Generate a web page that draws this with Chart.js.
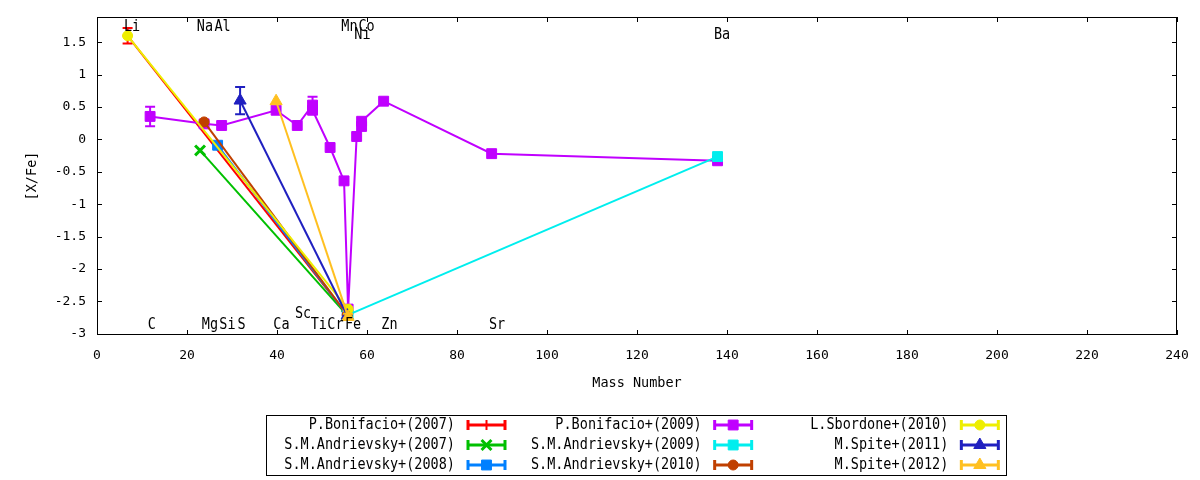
<!DOCTYPE html>
<html>
<head>
<meta charset="utf-8">
<title>[X/Fe] vs Mass Number</title>
<script src="https://cdn.jsdelivr.net/npm/chart.js@4.4.1/dist/chart.umd.min.js"></script>
<style>
  html, body { margin: 0; padding: 0; background: #fff; }
  #wrap { width: 1200px; height: 480px; }
</style>
</head>
<body>
<div id="wrap"><canvas id="abund" width="1200" height="480"></canvas></div>
<script>
/* ---------- data ---------- */
const massTicks  = [0, 20, 40, 60, 80, 100, 120, 140, 160, 180, 200, 220, 240];
const ratioTicks = [-3, -2.5, -2, -1.5, -1, -0.5, 0, 0.5, 1, 1.5];

const seriesNames = [
  'P.Bonifacio+(2007)', 'S.M.Andrievsky+(2007)', 'S.M.Andrievsky+(2008)',
  'P.Bonifacio+(2009)', 'S.M.Andrievsky+(2009)', 'S.M.Andrievsky+(2010)',
  'L.Sbordone+(2010)', 'M.Spite+(2011)', 'M.Spite+(2012)'
];
const seriesColors = ['#ff0000', '#00c000', '#0080ff', '#c000ff', '#00eeee', '#c04000', '#eeee00', '#2020c0', '#ffc020'];
const seriesMarks  = ['cross', 'crossRot', 'rect', 'rect', 'rect', 'circle', 'circle', 'triangle', 'triangle'];

// mass number, [X/Fe], error
const bon07Mass = [6.8, 55.6];
const bon07Val  = [1.60, -2.71];
const bon07Err  = [0.12, 0];

const and07Mass = [22.9, 55.5];
const and07Val  = [-0.17, -2.71];
const and07Err  = [0, 0];

const and08Mass = [26.8, 55.6];
const and08Val  = [-0.09, -2.71];
const and08Err  = [0, 0];

const bon09Mass = [11.8, 23.8, 27.7, 39.8, 44.5, 47.9, 47.9, 51.8, 54.9, 55.8, 57.7, 58.8, 58.8, 63.7, 87.7, 137.9];
const bon09Val  = [0.355, 0.24, 0.215, 0.45, 0.215, 0.53, 0.45, -0.125, -0.64, -2.62, 0.045, 0.20, 0.28, 0.59, -0.22, -0.33];
const bon09Err  = [0.15, 0, 0, 0, 0, 0.13, 0, 0, 0, 0, 0, 0, 0, 0, 0, 0];

const and09Mass = [55.8, 137.9];
const and09Val  = [-2.71, -0.265];
const and09Err  = [0, 0];

const and10Mass = [23.8, 55.6];
const and10Val  = [0.27, -2.71];
const and10Err  = [0, 0];

const sbo10Mass = [6.8, 55.8];
const sbo10Val  = [1.60, -2.62];
const sbo10Err  = [0, 0];

const spi11Mass = [31.8, 55.6];
const spi11Val  = [0.60, -2.72];
const spi11Err  = [0.21, 0];

const spi12Mass = [39.8, 55.8];
const spi12Val  = [0.59, -2.74];
const spi12Err  = [0, 0.05];

const seriesMass = [bon07Mass, and07Mass, and08Mass, bon09Mass, and09Mass, and10Mass, sbo10Mass, spi11Mass, spi12Mass];
const seriesVal  = [bon07Val, and07Val, and08Val, bon09Val, and09Val, and10Val, sbo10Val, spi11Val, spi12Val];
const seriesErr  = [bon07Err, and07Err, and08Err, bon09Err, and09Err, and10Err, sbo10Err, spi11Err, spi12Err];

// element labels in data coordinates
const elemNames = ['Li', 'Na', 'Al', 'Mn', 'Co', 'Ni', 'Ba', 'C', 'Mg', 'Si', 'S', 'Ca', 'Sc', 'Ti', 'Cr', 'Fe', 'Zn', 'Sr'];
const elemMass  = [7.8, 24.0, 27.9, 56.1, 59.9, 59.0, 138.9, 12.2, 25.1, 29.0, 32.1, 41.0, 45.8, 49.3, 53.0, 56.9, 65.0, 88.9];
const elemVal   = [1.74, 1.74, 1.74, 1.74, 1.74, 1.61, 1.61, -2.86, -2.86, -2.86, -2.86, -2.86, -2.69, -2.86, -2.86, -2.86, -2.86, -2.86];

/* ---------- look ---------- */
const FONT = "'DejaVu Sans Mono', monospace";
const STRETCH = 1.15;   // the reference glyphs are a bit taller than DejaVu's
Chart.defaults.font.family = FONT;
Chart.defaults.color = '#000';

function markSize(style) {
  if (style === 'rect' || style === 'triangle' || style === 'crossRot') return 7;
  return 5;
}
function markBorder(style) {
  if (style === 'cross') return 2;
  if (style === 'crossRot') return 3;
  return 1;
}

// text drawn by the plugins, slightly stretched vertically
function tallText(ctx, str, x, y) {
  ctx.save();
  ctx.translate(x, y);
  ctx.scale(1, STRETCH);
  ctx.fillText(str, 0, 0);
  ctx.restore();
}

const datasets = seriesNames.map((name, i) => ({
  label: name,
  data: seriesMass[i].map((m, k) => ({ x: m, y: seriesVal[i][k] })),
  errors: seriesErr[i],
  showLine: true,
  borderColor: seriesColors[i],
  backgroundColor: seriesColors[i],
  borderWidth: 2,
  pointStyle: seriesMarks[i],
  pointRadius: markSize(seriesMarks[i]),
  pointBorderWidth: markBorder(seriesMarks[i]),
  pointBorderColor: seriesColors[i],
  pointBackgroundColor: seriesColors[i],
  order: seriesNames.length - i   // later series on top, like gnuplot
}));

/* ---------- plugins ---------- */
// y error bars, drawn right after each dataset
const errorBars = {
  id: 'errorBars',
  afterDatasetDraw(chart, args) {
    const ds = chart.data.datasets[args.index];
    const { ctx } = chart;
    const ys = chart.scales.y, xs = chart.scales.x;
    ctx.save();
    ctx.strokeStyle = ds.borderColor;
    ctx.lineWidth = 2;
    ds.data.forEach((p, k) => {
      const e = ds.errors[k];
      if (!e) return;
      const px = xs.getPixelForValue(p.x);
      const top = ys.getPixelForValue(p.y + e);
      const bot = ys.getPixelForValue(p.y - e);
      ctx.beginPath();
      ctx.moveTo(px, top); ctx.lineTo(px, bot);
      ctx.moveTo(px - 5, top); ctx.lineTo(px + 5, top);
      ctx.moveTo(px - 5, bot); ctx.lineTo(px + 5, bot);
      ctx.stroke();
    });
    ctx.restore();
  }
};

// black border with inward ticks on all four sides
const frame = {
  id: 'frame',
  afterDatasetsDraw(chart) {
    const { ctx, chartArea: a } = chart;
    const xs = chart.scales.x, ys = chart.scales.y;
    ctx.save();
    ctx.strokeStyle = '#000';
    ctx.lineWidth = 1;
    ctx.strokeRect(a.left + 0.5, a.top + 0.5, a.right - a.left - 1, a.bottom - a.top - 1);
    ctx.beginPath();
    xs.ticks.forEach(t => {
      const px = Math.round(xs.getPixelForValue(t.value)) + 0.5;
      ctx.moveTo(px, a.bottom); ctx.lineTo(px, a.bottom - 5);
      ctx.moveTo(px, a.top); ctx.lineTo(px, a.top + 5);
    });
    ys.ticks.forEach(t => {
      const py = Math.round(ys.getPixelForValue(t.value)) + 0.5;
      ctx.moveTo(a.left, py); ctx.lineTo(a.left + 5, py);
      ctx.moveTo(a.right, py); ctx.lineTo(a.right - 5, py);
    });
    ctx.stroke();
    ctx.restore();
  }
};

// element names
const elementLabels = {
  id: 'elementLabels',
  afterDatasetsDraw(chart) {
    const { ctx } = chart;
    const xs = chart.scales.x, ys = chart.scales.y;
    ctx.save();
    ctx.font = '13.5px ' + FONT;
    ctx.fillStyle = '#000';
    ctx.textAlign = 'center';
    ctx.textBaseline = 'middle';
    elemNames.forEach((n, i) => {
      tallText(ctx, n, xs.getPixelForValue(elemMass[i]), ys.getPixelForValue(elemVal[i]));
    });
    ctx.restore();
  }
};

// boxed key under the plot, three columns, filled column by column
const keyBox = {
  id: 'keyBox',
  afterDraw(chart) {
    const { ctx } = chart;
    const box = { left: 266, top: 415, width: 740, height: 60 };
    const colW = box.width / 3;
    ctx.save();
    ctx.strokeStyle = '#000';
    ctx.lineWidth = 1;
    ctx.strokeRect(box.left + 0.5, box.top + 0.5, box.width, box.height);
    ctx.font = '13.5px ' + FONT;
    ctx.textAlign = 'right';
    ctx.textBaseline = 'middle';
    seriesNames.forEach((name, i) => {
      const col = Math.floor(i / 3), row = i % 3;
      const tx = box.left + 189 + col * colW;
      const ty = box.top + 10 + row * 20;
      ctx.fillStyle = '#000';
      tallText(ctx, name, tx, ty);
      const x0 = tx + 12, x1 = tx + 51;
      ctx.strokeStyle = seriesColors[i];
      ctx.fillStyle = seriesColors[i];
      ctx.lineWidth = 3;
      ctx.beginPath();
      ctx.moveTo(x0, ty); ctx.lineTo(x1, ty);
      ctx.moveTo(x0 + 1, ty - 5); ctx.lineTo(x0 + 1, ty + 5);
      ctx.moveTo(x1 - 1, ty - 5); ctx.lineTo(x1 - 1, ty + 5);
      ctx.stroke();
      ctx.lineWidth = markBorder(seriesMarks[i]);
      Chart.helpers.drawPoint(ctx, {
        pointStyle: seriesMarks[i],
        radius: markSize(seriesMarks[i]),
        borderWidth: markBorder(seriesMarks[i]),
        rotation: 0
      }, (x0 + x1) / 2, ty);
    });
    ctx.restore();
  }
};

/* ---------- chart ---------- */
new Chart(document.getElementById('abund'), {
  type: 'scatter',
  data: { datasets },
  plugins: [errorBars, frame, elementLabels, keyBox],
  options: {
    responsive: false,
    animation: false,
    devicePixelRatio: 1,
    layout: { padding: { top: 17, right: 23, left: 0, bottom: 0 } },
    plugins: {
      legend: { display: false },
      tooltip: { enabled: false }
    },
    elements: { line: { tension: 0 } },
    scales: {
      x: {
        type: 'linear',
        min: 0, max: 240,
        afterBuildTicks: s => { s.ticks = massTicks.map(v => ({ value: v })); },
        afterFit: s => { s.height = 145; s.paddingLeft = 0; s.paddingRight = 0; },
        grid: { display: false, drawTicks: false },
        border: { display: false },
        ticks: { padding: 13, font: { size: 13 }, callback: v => String(v), maxRotation: 0, autoSkip: false },
        title: { display: true, text: 'Mass Number', font: { size: 13.5 }, padding: { top: 0, bottom: 88 } }
      },
      y: {
        type: 'linear',
        min: -3.02, max: 1.89,
        afterBuildTicks: s => { s.ticks = ratioTicks.map(v => ({ value: v })); },
        afterFit: s => { s.width = 97; s.paddingTop = 0; s.paddingBottom = 0; },
        grid: { display: false, drawTicks: false },
        border: { display: false },
        ticks: { padding: 11, font: { size: 13 }, callback: v => String(v), autoSkip: false },
        title: { display: true, text: '[X/Fe]', font: { size: 13.5 }, padding: { top: 24, bottom: 0 } }
      }
    }
  }
});
</script>
</body>
</html>
